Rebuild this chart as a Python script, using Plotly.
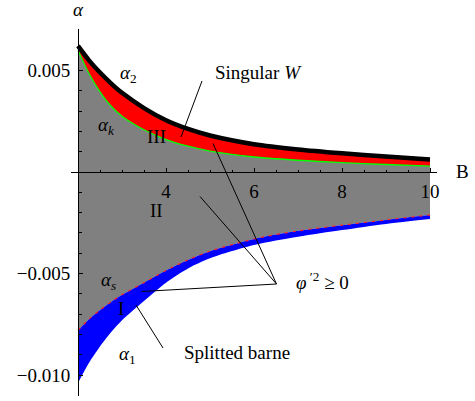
import plotly.graph_objects as go

# ---- data, alpha values in units of 1e-3 ----
B = [2, 2.25, 2.5, 2.75, 3, 3.5, 4, 4.5, 5, 6, 7, 8, 9, 10]
alpha2_e3 = [6.21, 5.5, 4.9, 4.37, 3.9, 3.15, 2.55, 2.12, 1.8, 1.37, 1.11, 0.92, 0.76, 0.62]
alphak_e3 = [6.0, 4.85, 3.95, 3.25, 2.75, 2.08, 1.6, 1.27, 1.03, 0.74, 0.58, 0.46, 0.37, 0.29]
alphas_e3 = [-7.8, -7.25, -6.8, -6.4, -6.05, -5.45, -4.85, -4.33, -3.9, -3.3, -2.9, -2.62, -2.36, -2.12]
alpha1_e3 = [-10.4, -9.4, -8.6, -7.9, -7.3, -6.35, -5.45, -4.75, -4.25, -3.6, -3.19, -2.86, -2.56, -2.32]

x_ticks = [4, 6, 8, 10]
x_ticktext = ["4", "6", "8", "10"]
y_ticks = [0.005, -0.005, -0.010]
y_ticktext = ["0.005", "\u22120.005", "\u22120.010"]

a2 = [v * 1e-3 for v in alpha2_e3]
ak = [v * 1e-3 for v in alphak_e3]
a_s = [v * 1e-3 for v in alphas_e3]
a1 = [v * 1e-3 for v in alpha1_e3]

W, H = 475, 401
FONT = "Liberation Serif, Times New Roman, serif"
FS = 19

fig = go.Figure()
sp = dict(shape="spline", smoothing=0.8)

def band(lower, upper, color):
    fig.add_trace(go.Scatter(x=B, y=lower, mode="lines", line=dict(width=0, **sp),
                             hoverinfo="skip", showlegend=False))
    fig.add_trace(go.Scatter(x=B, y=upper, mode="lines", line=dict(width=0, **sp),
                             fill="tonexty", fillcolor=color, hoverinfo="skip",
                             showlegend=False))

band(a_s, ak, "#808080")   # region II
band(a1, a_s, "#0000ff")   # region I
band(ak, a2, "#ff0000")    # region III

fig.add_trace(go.Scatter(x=B, y=ak, mode="lines", line=dict(color="#00ff00", width=1.3, **sp),
                         showlegend=False))
fig.add_trace(go.Scatter(x=B, y=a_s, mode="lines",
                         line=dict(color="#ff2020", width=1.2, dash="3px,5px", **sp),
                         showlegend=False))
fig.add_trace(go.Scatter(x=B, y=a2, mode="lines", line=dict(color="black", width=4.5, **sp),
                         showlegend=False))

# pixel helpers for layout geometry
PX_B2, PX_PER_B = 78, 44.0
PY_0, PY_PER = 172, 20300.0
def bx(px):
    return 2 + (px - PX_B2) / PX_PER_B
def ay(py):
    return (PY_0 - py) / PY_PER

x_left, x_right = 71, 437
y_top, y_bot = 29, 396

axis_common = dict(showgrid=False, zeroline=False, showline=True, linecolor="black",
                   linewidth=1, ticks="inside", tickcolor="black", tickwidth=1,
                   tickfont=dict(family=FONT, size=FS, color="black"), automargin=False)

fig.update_layout(
    width=W, height=H,
    margin=dict(l=0, r=0, t=0, b=0),
    paper_bgcolor="white", plot_bgcolor="white",
    showlegend=False,
    xaxis=dict(domain=[x_left / W, x_right / W], range=[bx(x_left), bx(x_right)],
               anchor="free", position=1 - PY_0 / H,
               tickvals=x_ticks, ticktext=x_ticktext, ticklen=4,
               minor=dict(tickvals=[2.5 + 0.5 * i for i in range(16)], ticklen=2.5,
                          ticks="inside", tickcolor="black"),
               ticklabelstandoff=2,
               **axis_common),
    yaxis=dict(domain=[1 - y_bot / H, 1 - y_top / H], range=[ay(y_bot), ay(y_top)],
               anchor="free", position=PX_B2 / W,
               tickvals=y_ticks, ticktext=y_ticktext, ticklen=4,
               minor=dict(tickvals=[-0.011 + 0.001 * i for i in range(19) if abs(-0.011 + 0.001 * i) > 1e-9],
                          ticklen=2.5, ticks="inside", tickcolor="black"),
               ticklabelstandoff=4,
               **axis_common),
)

def txt(px, py, s, size=FS):
    fig.add_annotation(x=px / W, y=1 - py / H, xref="paper", yref="paper", text=s,
                       showarrow=False,
                       font=dict(family=FONT, size=size, color="black"),
                       xanchor="center", yanchor="middle")

txt(78, 9, "<i>α</i>")
txt(462, 172, "B")
txt(128, 74, "<i>α</i><sub>2</sub>")
txt(258, 72, "Singular <i>W</i>")
txt(106, 126, "<i>α</i><sub><i>k</i></sub>")
txt(156, 137, "III")
txt(156, 210, "II")
txt(108, 281, "<i>α</i><sub><i>s</i></sub>")
txt(121, 308, "I")
txt(127, 355, "<i>α</i><sub>1</sub>")
txt(237, 352, "Splitted barne")
txt(322, 281, "<i>φ</i><sup> ′2</sup> ≥ 0")

def seg(p0, p1):
    fig.add_shape(type="line", xref="x", yref="y",
                  x0=bx(p0[0]), y0=ay(p0[1]), x1=bx(p1[0]), y1=ay(p1[1]),
                  line=dict(color="black", width=1))

seg((202, 81), (181, 137))
seg((163, 348), (136, 305))
hub = (276.5, 284)
seg(hub, (141.5, 291.5))
seg(hub, (213, 143.5))
seg(hub, (200, 196.5))

fig.write_html("out.html", config={"displayModeBar": False},
               post_script="document.body.style.margin='0';document.body.style.padding='0';")
